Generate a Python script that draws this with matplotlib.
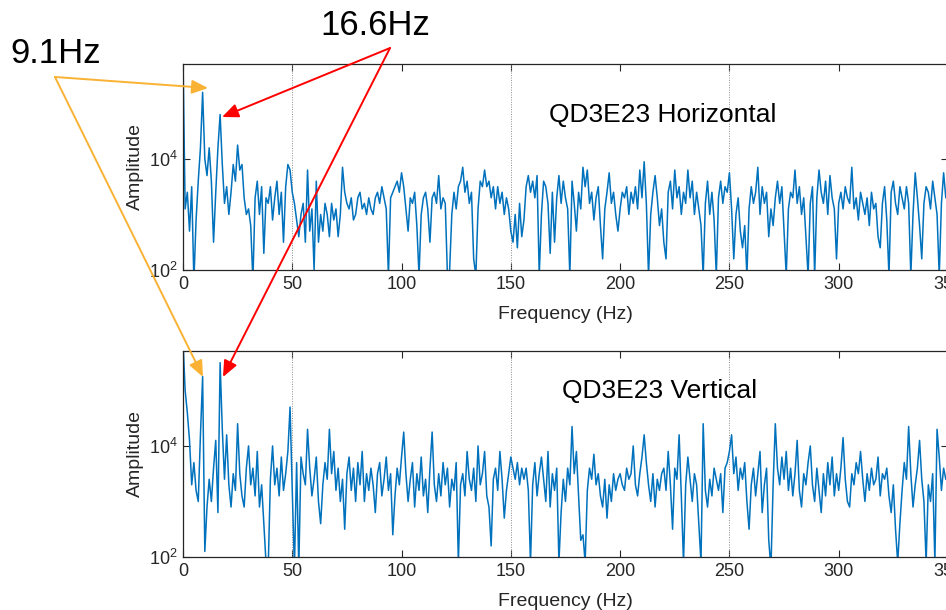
import numpy as np
import matplotlib.pyplot as plt
from matplotlib.ticker import NullLocator
from matplotlib.patches import FancyArrowPatch

plt.rcParams['font.family'] = ['Liberation Sans', 'DejaVu Sans']

# frequency axis (Hz), one point per Hz
freq = np.arange(0, 351)

# log10 amplitude, QD3E23 Horizontal
horiz_log = [
    5.9, 3.1, 3.4, 2.7, 3.5, 1.8, 2.9, 3.6, 4.2, 5.2,
    4.0, 3.7, 4.2, 3.6, 2.5, 3.4, 4.2, 4.8, 3.9, 3.2,
    3.5, 3.0, 3.4, 3.9, 3.6, 4.25, 3.8, 3.9, 3.3, 3.0,
    3.1, 2.8, 1.8, 3.3, 3.6, 3.0, 3.5, 2.3, 3.3, 3.2,
    3.5, 2.9, 3.3, 3.6, 3.0, 3.4, 2.5, 3.5, 3.9, 3.8,
    3.4, 3.2, 2.9, 2.6, 3.0, 3.2, 2.5, 3.8, 2.7, 3.1,
    2.0, 3.6, 2.5, 3.0, 2.7, 3.2, 3.0, 2.6, 3.2, 2.9,
    3.1, 2.6, 3.0, 3.85, 3.4, 3.2, 3.1, 3.3, 2.9, 3.0,
    3.3, 3.4, 3.1, 3.2, 3.0, 3.3, 3.1, 3.0, 3.3, 3.4,
    3.2, 3.5, 3.3, 3.1, 1.9, 3.3, 3.4, 3.5, 3.6, 3.4,
    3.75, 3.5, 3.1, 2.7, 3.3, 3.2, 3.4, 2.8, 1.9, 3.0,
    3.3, 3.4, 3.1, 2.5, 3.3, 3.4, 3.2, 3.7, 3.1, 3.3,
    3.2, 1.9, 2.0, 3.0, 3.4, 3.1, 3.5, 3.6, 3.85, 3.4,
    3.6, 3.2, 3.4, 2.2, 1.9, 3.1, 3.6, 3.5, 3.8, 3.5,
    3.6, 3.3, 3.5, 3.1, 3.5, 3.2, 3.4, 3.0, 3.3, 3.1,
    2.7, 2.5, 3.0, 2.4, 3.2, 2.6, 2.9, 3.5, 3.7, 3.4,
    3.6, 3.3, 3.7, 1.9, 3.0, 3.6, 3.5, 3.2, 2.3, 3.4,
    2.5, 3.3, 3.7, 3.2, 3.6, 3.3, 3.1, 1.9, 3.6, 3.2,
    2.7, 3.4, 3.1, 3.85, 3.5, 3.8, 3.2, 3.4, 2.9, 3.3,
    3.5, 2.8, 2.2, 3.1, 3.4, 3.75, 3.2, 3.4, 3.0, 2.7,
    3.1, 3.4, 3.3, 3.5, 3.0, 3.4, 3.2, 3.5, 3.1, 3.8,
    3.3, 3.95, 3.2, 1.9, 3.0, 3.4, 3.7, 3.3, 2.8, 3.1,
    2.5, 2.2, 3.4, 3.6, 3.1, 3.8, 3.3, 3.5, 3.0, 3.4,
    3.2, 3.8, 3.3, 3.6, 3.0, 3.4, 3.1, 2.8, 1.9, 3.2,
    3.6, 3.0, 3.4, 2.9, 1.9, 3.3, 3.6, 3.2, 3.5, 3.4,
    3.75, 3.1, 2.2, 3.0, 3.3, 2.7, 2.4, 2.8, 1.9, 3.1,
    3.5, 3.2, 3.4, 3.85, 3.0, 3.5, 3.2, 3.4, 2.6, 3.1,
    2.8, 3.3, 3.6, 3.2, 3.5, 2.7, 1.9, 3.1, 3.4, 3.3,
    3.8, 3.2, 3.5, 3.0, 3.3, 2.6, 1.9, 3.2, 3.5, 1.9,
    3.3, 3.8, 3.4, 3.2, 3.6, 3.0, 3.7, 3.3, 3.1, 2.2,
    3.2, 3.4, 3.1, 3.5, 3.3, 3.2, 3.85, 3.1, 3.3, 2.9,
    3.4, 3.2, 3.0, 3.3, 2.8, 3.4, 3.1, 3.2, 2.6, 2.4,
    3.2, 3.5, 2.9, 1.9, 3.4, 3.6, 3.2, 3.0, 3.5, 3.3,
    3.1, 3.5, 3.2, 1.9, 3.0, 3.75, 3.3, 2.8, 2.2, 3.2,
    3.5, 3.4, 3.1, 3.6, 3.3, 3.0, 1.9, 3.2, 3.75, 3.3,
    3.4,
]

# log10 amplitude, QD3E23 Vertical
vert_log = [
    5.9, 5.0, 4.6, 4.1, 3.3, 3.7, 3.2, 3.0, 4.2, 5.25,
    2.1, 2.9, 3.4, 3.0, 3.6, 4.1, 2.8, 5.5, 4.3, 3.4,
    4.2, 3.3, 2.9, 3.5, 3.2, 4.4, 3.5, 3.1, 2.9, 3.6,
    4.0, 3.3, 3.6, 3.1, 3.9, 2.9, 3.3, 2.6, 1.9, 1.8,
    3.4, 4.0, 3.3, 3.6, 3.1, 3.8, 3.2, 3.5, 3.9, 4.7,
    3.2, 1.8, 3.7, 1.8, 3.8, 3.5, 3.3, 4.3, 3.6, 3.1,
    3.4, 3.8, 3.0, 2.6, 3.3, 3.7, 3.4, 4.3, 3.5, 3.9,
    3.2, 3.6, 3.0, 3.4, 2.5, 3.5, 3.8, 3.2, 3.6, 3.0,
    3.7, 3.3, 3.9, 3.0, 3.5, 3.2, 3.6, 3.3, 2.8, 3.5,
    3.7, 3.1, 3.4, 3.8, 3.2, 3.5, 2.4, 3.1, 3.6, 3.3,
    3.8, 4.25, 3.5, 3.0, 3.4, 3.7, 2.9, 3.5, 3.2, 3.8,
    3.1, 3.4, 2.8, 3.6, 4.25, 3.3, 3.0, 3.5, 3.1, 3.7,
    3.3, 3.6, 2.9, 3.4, 3.2, 3.7, 1.9, 3.3, 3.5, 3.1,
    3.9, 3.4, 3.2, 3.6, 3.0, 4.0, 3.3, 3.5, 3.9, 3.1,
    2.9, 2.2, 3.4, 3.6, 3.2, 3.9, 3.4, 2.7, 3.2, 3.5,
    3.8, 3.6, 3.4, 3.7, 3.3, 3.6, 3.4, 3.6, 3.2, 1.9,
    3.3, 3.7, 3.1, 3.5, 3.8, 3.4, 3.0, 3.9, 2.9, 3.5,
    3.2, 3.6, 1.9, 2.8, 3.4, 3.0, 3.6, 3.3, 4.35, 3.5,
    3.9, 3.1, 2.3, 2.4, 1.9, 3.2, 3.6, 3.4, 3.85, 3.3,
    3.5, 3.1, 2.9, 3.4, 2.7, 3.3, 3.0, 3.5, 3.2, 3.4,
    3.5, 3.3, 3.2, 3.6, 3.4, 3.5, 4.0, 3.3, 3.1, 3.5,
    3.8, 4.2, 3.7, 3.3, 3.0, 3.5, 2.9, 3.4, 3.2, 3.5,
    3.6, 3.2, 3.9, 3.3, 2.5, 3.6, 3.4, 4.2, 3.1, 1.9,
    3.3, 3.8, 3.4, 3.0, 3.5, 3.3, 2.6, 1.9, 4.4, 3.2,
    2.9, 3.4, 3.1, 3.6, 3.4, 3.2, 3.5, 2.8, 3.6, 3.7,
    3.9, 4.2, 3.5, 3.8, 3.2, 3.6, 3.4, 3.7, 3.0, 2.5,
    3.3, 3.6, 3.1, 3.5, 3.9, 2.8, 3.3, 3.6, 2.3, 1.8,
    3.3, 4.4, 3.6, 3.3, 3.8, 3.4, 3.9, 3.2, 3.6, 3.1,
    3.5, 4.1, 3.2, 2.9, 3.5, 3.3, 3.7, 4.0, 3.3, 3.0,
    3.6, 3.2, 2.8, 3.5, 3.1, 3.7, 3.3, 3.8, 3.1, 3.5,
    3.2, 3.6, 4.15, 3.4, 3.0, 2.9, 3.5, 3.3, 3.7, 3.5,
    3.9, 3.4, 3.0, 3.5, 3.2, 3.6, 3.3, 3.4, 3.8, 3.1,
    3.5, 3.4, 3.6, 3.1, 2.8, 3.3, 2.5, 1.9, 2.6, 3.2,
    3.7, 3.4, 4.35, 3.5, 2.9, 3.3, 3.6, 4.1, 3.4, 3.0,
    1.9, 3.3, 3.0, 3.5, 1.9, 4.3, 3.8, 3.2, 3.6, 3.4,
    3.5,
]

titles = ["QD3E23 Horizontal", "QD3E23 Vertical"]
marker_lines = [50, 150, 250]
xticks = [0, 50, 100, 150, 200, 250, 300, 350]

fig = plt.figure(figsize=(9.46, 6.10), dpi=100)
ax_top = fig.add_axes([0.1934, 0.5574, 0.8087, 0.3377])
ax_bot = fig.add_axes([0.1934, 0.0869, 0.8087, 0.3377])

axis_col = '#262626'
title_pos = [(0.627, 0.752), (0.6235, 0.806)]

for ax, levels, title, tpos in zip([ax_top, ax_bot], [horiz_log, vert_log], titles, title_pos):
    for xl in marker_lines:
        ax.axvline(xl, color='0.55', ls=(0, (1, 1.5)), lw=0.7)
    ax.plot(freq, 10 ** np.array(levels), color='#0072BD', lw=1.1)
    ax.set_yscale('log')
    ax.set_xlim(0, 350)
    ax.set_ylim(1e2, 10 ** 5.71)
    ax.set_yticks([1e2, 1e4])
    ax.yaxis.set_minor_locator(NullLocator())
    ax.set_xticks(xticks)
    ax.tick_params(direction='in', length=5, width=0.8, top=True, right=True,
                   labelsize=13, colors=axis_col, pad=4)
    for sp in ax.spines.values():
        sp.set_color(axis_col)
        sp.set_linewidth(0.9)
    ax.set_xlabel('Frequency (Hz)', fontsize=14, color=axis_col, labelpad=10)
    ax.set_ylabel('Amplitude', fontsize=14, color=axis_col, labelpad=3)
    ax.text(tpos[0], tpos[1], title, transform=ax.transAxes, fontsize=19,
            ha='center', va='center', color='black')

# annotations with arrows (figure fraction)
fig.text(0.0106, 0.8967, '9.1Hz', fontsize=25, ha='left', va='baseline')
fig.text(0.3383, 0.9426, '16.6Hz', fontsize=25, ha='left', va='baseline')

orange = '#F9B233'
red = '#FF0000'
arrows = [
    ((0.0581, 0.8738), (0.2199, 0.8557), orange),
    ((0.0581, 0.8738), (0.2146, 0.3820), orange),
    ((0.4123, 0.9213), (0.2347, 0.8082), red),
    ((0.4123, 0.9213), (0.2357, 0.3820), red),
]
for start, end, col in arrows:
    arr = FancyArrowPatch(start, end, transform=fig.transFigure,
                          arrowstyle='-|>,head_length=0.7,head_width=0.3',
                          color=col, lw=1.4, mutation_scale=14,
                          shrinkA=0, shrinkB=0, zorder=10)
    fig.add_artist(arr)

fig.savefig('out.png', dpi=100)
